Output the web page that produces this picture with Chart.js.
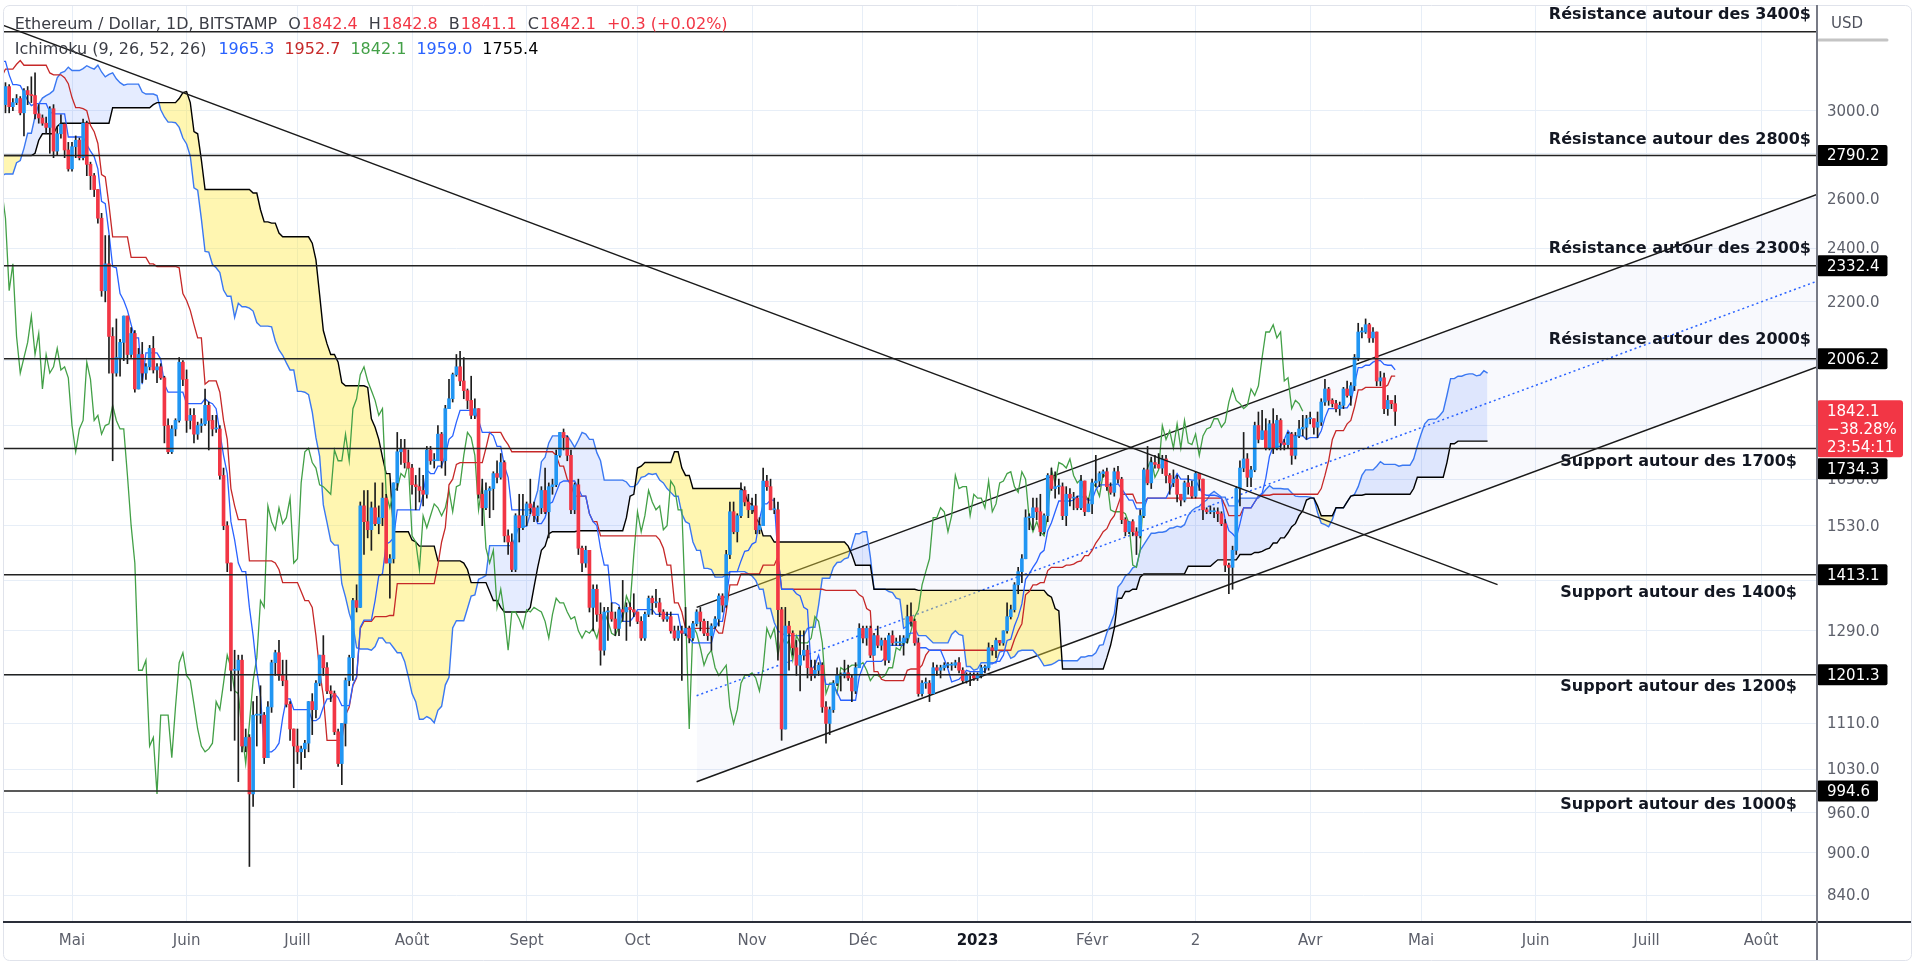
<!DOCTYPE html>
<html><head><meta charset="utf-8">
<script src="https://cdn.jsdelivr.net/npm/chart.js@4/dist/chart.umd.min.js"></script>
<style>html,body{margin:0;padding:0;background:#fff;overflow:hidden}canvas{display:block}</style>
</head><body>
<canvas id="c" width="1920" height="971"></canvas>
<script>
// ---------- DATA (ETH/USD daily, BITSTAMP) ----------
const firstDate = '2022-01-24';
const firstOpen = 2540;
const closes = [
 2440,2460,2470,2420,2550,2600,2600,2690,
 2790,2680,2660,2990,3020,3060,3140,3110,3240,3080,2930,2920,2880,2930,3180,3130,2890,2790,2760,2620,2570,2630,2580,2600,2770,2780,2620,2920,
 2970,2950,2830,2620,2670,2550,2500,2580,2730,2610,2560,2570,2520,2590,2620,2770,2820,2940,2950,2860,2900,2970,3030,3110,3110,3140,3300,3330,3400,3380,3280,
 3450,3440,3520,3520,3410,3170,3230,3190,3260,3210,2980,3030,3120,3020,3040,3060,2990,3100,3080,3075,2985,2965,2940,2920,3010,2810,2890,2935,2815,2730,
 2830,2860,2780,2940,2750,2700,2640,2520,2240,2340,2080,1960,2010,2060,2150,2020,2090,1910,2020,1960,1980,2040,1970,1980,1945,1800,1725,1790,1815,1995,1940,
 1815,1830,1775,1800,1805,1860,1815,1790,1790,1660,1530,1440,1210,1210,1230,1070,1085,990,1125,1125,1125,1050,1140,1225,1245,1200,1190,1145,1100,1070,
 1060,1065,1075,1150,1135,1185,1240,1215,1170,1165,1095,1040,1110,1190,1235,1355,1340,1580,1540,1520,1575,1535,1550,1600,1440,1450,1640,1725,1735,1695,1680,
 1635,1630,1620,1610,1730,1700,1700,1775,1700,1850,1880,1955,1980,1935,1905,1875,1830,1850,1610,1575,1620,1625,1665,1655,1695,1505,1490,1425,1555,1525,1555,
 1585,1575,1555,1575,1620,1565,1630,1635,1715,1780,1765,1715,1570,1635,1475,1440,1470,1340,1380,1325,1250,1330,1330,1315,1295,1335,1330,1340,1335,1330,
 1310,1275,1325,1360,1350,1350,1330,1315,1320,1290,1275,1290,1285,1295,1275,1305,1330,1310,1285,1280,1300,1315,1365,1345,1460,1565,1515,1555,1620,1590,1570,
 1580,1520,1530,1645,1630,1570,1570,1335,1100,1300,1285,1255,1220,1240,1250,1215,1200,1210,1220,1140,1110,1135,1185,1200,1200,1205,1195,1170,1215,1295,
 1275,1295,1240,1280,1260,1270,1230,1280,1265,1265,1265,1275,1320,1310,1265,1165,1185,1185,1165,1215,1210,1215,1220,1220,1220,1225,1210,1190,1200,1200,1195,
 1200,1215,1215,1255,1250,1270,1265,1290,1320,1335,1390,1420,1450,1550,1550,1575,1565,1515,1555,1660,1625,1630,1630,1555,1610,1600,1600,1575,1645,1565,1585,
 1640,1645,1665,1670,1630,1615,1670,1650,1545,1515,1540,1515,1505,1555,1675,1640,1695,1690,1680,1705,1660,1640,1650,1610,1595,1640,1630,1605,
 1665,1650,1570,1565,1565,1565,1560,1535,1435,1430,1470,1625,1680,1705,1655,1675,1800,1760,1785,1735,1805,1735,1815,1750,1745,1775,1715,1770,1790,1795,1820,
 1820,1795,1810,1870,1910,1875,1865,1850,1860,1910,1890,1920,2010,2095,2095,2120,2075,2095,1935,1945,1850,1875,1865,1842.1
];
const highs = [
 2550,2480,2720,2500,2560,2620,2650,2700,
 2820,2800,2700,3000,3060,3070,3180,3200,3250,3280,3140,2990,2950,2950,3190,3190,3150,2950,2800,2770,2750,2650,2730,2700,2800,2840,2820,2940,
 3040,3000,2970,2840,2680,2680,2640,2630,2760,2730,2650,2610,2590,2600,2660,2780,2840,2960,2990,2960,2950,3040,3040,3120,3180,3160,3300,3420,3480,3440,3440,
 3470,3550,3580,3530,3550,3410,3250,3310,3270,3300,3220,3080,3140,3130,3060,3080,3070,3110,3120,3170,3190,3030,2980,2970,3020,3030,2920,2980,2940,2850,
 2850,2880,2870,2960,2950,2760,2710,2640,2540,2450,2450,2110,2140,2070,2150,2150,2110,2100,2040,2060,1990,2050,2080,1990,1990,1950,1820,1800,1820,2010,2000,
 1970,1850,1850,1810,1820,1910,1870,1830,1830,1800,1680,1540,1440,1250,1240,1240,1100,1090,1150,1160,1180,1130,1150,1230,1250,1270,1230,1230,1150,1100,
 1100,1070,1080,1150,1165,1190,1240,1280,1225,1180,1170,1100,1110,1195,1240,1360,1390,1590,1620,1620,1590,1640,1580,1640,1610,1460,1640,1780,1760,1760,1730,
 1690,1660,1680,1660,1740,1740,1720,1800,1780,1860,1940,1960,2020,2030,2010,1910,1950,1880,1850,1650,1640,1630,1670,1700,1720,1700,1520,1510,1560,1610,1610,
 1590,1650,1590,1580,1630,1680,1640,1650,1730,1780,1790,1770,1730,1640,1650,1480,1480,1470,1390,1390,1350,1340,1340,1350,1330,1340,1400,1350,1350,1370,
 1330,1320,1330,1365,1365,1380,1360,1335,1330,1330,1300,1300,1300,1340,1300,1310,1335,1340,1315,1310,1305,1320,1370,1370,1470,1590,1590,1560,1640,1630,1610,
 1600,1610,1550,1680,1660,1650,1600,1590,1340,1340,1310,1290,1270,1290,1290,1260,1230,1230,1225,1225,1150,1140,1190,1215,1205,1230,1220,1200,1225,1305,
 1300,1300,1300,1285,1300,1275,1275,1285,1290,1275,1280,1280,1345,1350,1315,1275,1190,1195,1190,1225,1220,1220,1225,1225,1225,1230,1235,1215,1205,1205,1205,
 1205,1220,1220,1265,1260,1275,1270,1290,1350,1345,1395,1430,1460,1570,1560,1600,1600,1610,1560,1665,1680,1670,1650,1640,1630,1625,1615,1605,1660,1645,1600,
 1650,1715,1670,1675,1680,1640,1680,1685,1655,1550,1540,1545,1525,1570,1680,1740,1710,1715,1720,1715,1715,1665,1675,1660,1610,1645,1660,1645,
 1670,1665,1650,1575,1580,1575,1575,1565,1545,1440,1480,1630,1700,1780,1720,1685,1810,1840,1845,1820,1815,1850,1830,1820,1760,1780,1780,1780,1815,1830,1830,
 1840,1820,1840,1880,1940,1915,1880,1875,1870,1915,1935,1930,2020,2125,2110,2140,2125,2110,2095,1965,1960,1890,1875,1890
];
const lows = [
 2160,2360,2420,2360,2380,2530,2570,2520,
 2680,2640,2580,2650,2970,2980,3050,3030,3090,3060,2900,2890,2860,2840,2920,3070,2870,2760,2720,2580,2560,2500,2570,2300,2580,2740,2600,2580,
 2860,2900,2800,2600,2600,2540,2450,2480,2580,2550,2530,2550,2500,2500,2540,2600,2760,2760,2930,2850,2840,2890,2930,2990,3080,3100,3130,3290,3330,3350,3270,
 3220,3440,3420,3400,3400,3150,3150,3180,3190,3200,2950,2960,2990,2990,3000,3030,2980,2880,3030,3040,2960,2940,2930,2890,2800,2780,2790,2870,2780,2720,
 2720,2780,2770,2770,2700,2640,2610,2500,2220,2200,1960,1700,1950,1950,2000,1990,2010,1900,1910,1930,1940,1970,1960,1930,1940,1750,1720,1720,1770,1810,1920,
 1780,1790,1750,1760,1780,1800,1730,1770,1780,1650,1520,1420,1170,1080,1010,1060,1060,880,970,1070,1110,1040,1050,1130,1200,1190,1180,1140,1080,1000,
 1040,1030,1050,1060,1090,1120,1180,1200,1165,1150,1090,1035,1005,1070,1180,1190,1330,1340,1460,1500,1470,1530,1510,1530,1440,1360,1440,1620,1690,1680,1680,
 1610,1570,1590,1580,1600,1690,1680,1700,1680,1660,1850,1870,1950,1920,1880,1850,1820,1820,1600,1530,1570,1550,1570,1640,1650,1490,1460,1420,1420,1490,1520,
 1530,1560,1540,1540,1560,1560,1500,1610,1630,1710,1730,1700,1560,1560,1460,1420,1430,1330,1290,1310,1220,1240,1270,1310,1280,1280,1310,1270,1300,1320,
 1305,1270,1270,1320,1325,1340,1320,1310,1310,1285,1270,1270,1190,1280,1265,1270,1300,1290,1280,1270,1250,1295,1300,1330,1340,1450,1510,1490,1550,1580,1550,
 1560,1510,1510,1530,1620,1570,1560,1230,1080,1100,1210,1240,1200,1170,1230,1195,1190,1195,1200,1130,1075,1090,1130,1180,1170,1195,1190,1150,1165,1215,
 1265,1260,1235,1240,1255,1250,1220,1225,1260,1260,1260,1240,1265,1300,1260,1160,1160,1175,1150,1165,1200,1195,1210,1215,1210,1215,1205,1185,1185,1180,1190,
 1190,1195,1205,1210,1240,1235,1260,1260,1285,1315,1330,1370,1395,1450,1520,1520,1545,1505,1510,1540,1620,1600,1610,1545,1530,1580,1570,1570,1570,1555,1565,
 1560,1630,1630,1655,1620,1610,1605,1640,1535,1505,1510,1505,1460,1500,1550,1635,1625,1680,1680,1665,1640,1610,1630,1590,1580,1590,1610,1600,
 1600,1620,1545,1560,1560,1550,1540,1530,1420,1370,1380,1460,1580,1670,1630,1630,1670,1750,1760,1730,1730,1720,1730,1730,1730,1735,1690,1705,1765,1770,1760,
 1805,1775,1765,1800,1860,1860,1855,1840,1830,1850,1885,1860,1905,2000,2075,2090,2060,2060,1920,1920,1835,1830,1850,1800
];
// Ichimoku settings (9, 26, 52, 26)
const ichimokuParams = [9, 26, 52, 26];
// x axis: month labels (French) and their day numbers counted from 2022-01-01
const monthTickLabels = ['Mai','Juin','Juill','Août','Sept','Oct','Nov','Déc','2023','Févr','2','Avr','Mai','Juin','Juill','Août'];
const monthTickDays   = [120,151,181,212,243,273,304,334,365,396,424,455,485,516,546,577];
// y axis (log) tick values
const yTicks = [840,900,960,1030,1110,1200,1290,1400,1530,1650,1800,2000,2200,2400,2600,2800,3000];
// horizontal support / resistance levels
const levelPrices = [3410, 2790.2, 2332.4, 2006.2, 1734.3, 1413.1, 1201.3, 994.6];
const levelLabels = ['Résistance autour des 3400$','Résistance autour des 2800$','Résistance autour des 2300$','Résistance autour des 2000$',
                     'Support autour des 1700$','Support autour des 1400$','Support autour des 1200$','Support autour des 1000$'];
const levelHasTag = [false,true,true,true,true,true,true,true];
// trend lines: [startDay, startPrice, endDay, endPrice]
const downTrend     = [100.52, 3453, 505.7, 1390.5];
const channelUpper  = [289.0, 1340, 592.13, 2619];
const channelLower  = [289.0, 1009.8, 592.13, 1979.7];
const channelMiddle = [289.0, 1161, 592.13, 2275];
// legend texts
const legendMain = ['Ethereum / Dollar, 1D, BITSTAMP'];
const legendOHLC = [['O','1842.4'],['H','1842.8'],['B','1841.1'],['C','1842.1']];
const legendChange = '+0.3 (+0.02%)';
const legendIchiName = 'Ichimoku (9, 26, 52, 26)';
const legendIchiValues = ['1965.3','1952.7','1842.1','1959.0','1755.4'];
const lastPriceTag = ['1842.1','\u221238.28%','23:54:11'];
const lastPrice = 1842.1;

// ---------- STYLE ----------
const X_MIN = 101.33, X_MAX = 592.13, Y_MIN = 804.2, Y_MAX = 3556;
const UP = '#2196F3', DOWN = '#F23645', WICK = '#1c1c1c';
const GRID = '#e7eef7';
const FONT = '"DejaVu Sans", "Liberation Sans", sans-serif';
const labelDy = [-16.5, -16, -17, -18.5, 13, 18, 12, 14];   // text offset from its level line (px)
const labelRight = [1811, 1811, 1811, 1811, 1797, 1797, 1797, 1797];

// ---------- BUILD ----------
const dayOf = s => Math.round((Date.parse(s) - Date.parse('2022-01-01')) / 86400000);
const startDay = dayOf(firstDate);
const N = Math.min(closes.length, highs.length, lows.length);
const days = [], opens = [];
for (let i = 0; i < N; i++) { days.push(startDay + i); opens.push(i ? closes[i-1] : firstOpen); }

const wickData = days.map((d,i)=>({x:d, y:[Math.min(lows[i],opens[i],closes[i]), Math.max(highs[i],opens[i],closes[i])]}));
const bodyData = days.map((d,i)=>({x:d, y:[opens[i], closes[i]]}));
const bodyColors = days.map((d,i)=> closes[i] >= opens[i] ? UP : DOWN);

// Ichimoku indicator (standard definition, from the candles above)
function donchian(i, len){
  if (i - len + 1 < 0) return null;
  let hi = -Infinity, lo = Infinity;
  for (let k = i - len + 1; k <= i; k++){ if (highs[k] > hi) hi = highs[k]; if (lows[k] < lo) lo = lows[k]; }
  return (hi + lo) / 2;
}
const [pConv, pBase, pSpan, pDisp] = ichimokuParams;
const shift = pDisp - 1;
const tenkan = [], kijun = [], spanA = [], spanB = [], chikou = [];
for (let i = 0; i < N; i++){
  const t = donchian(i, pConv), k = donchian(i, pBase), b = donchian(i, pSpan);
  if (t !== null) tenkan.push({x:days[i], y:t});
  if (k !== null) kijun.push({x:days[i], y:k});
  if (t !== null && k !== null) spanA.push({x:days[i]+shift, y:(t+k)/2});
  if (b !== null) spanB.push({x:days[i]+shift, y:b});
  chikou.push({x:days[i]-shift, y:closes[i]});
}
const seg = a => [{x:a[0], y:a[1]}, {x:a[2], y:a[3]}];
const line = (data, color, width, order, extra) => Object.assign({type:'line', data, borderColor:color, borderWidth:width,
  pointRadius:0, tension:0, fill:false, order}, extra||{});

const datasets = [];
// 0,1,2 channel
datasets.push(line(seg(channelUpper), '#1a1a1a', 1.5, 100));
datasets.push(line(seg(channelLower), '#1a1a1a', 1.5, 101, {fill:{target:0}, backgroundColor:'rgba(110,130,210,0.05)'}));
datasets.push(line(seg(channelMiddle), '#2962FF', 1.5, 99, {borderDash:[2,3]}));
// 3 span B, 4 span A (fill to B)
datasets.push(line(spanB, '#000000', 1.4, 90));
datasets.push(line(spanA, '#3A78F2', 1.4, 91, {fill:{target:3, above:'rgba(41,98,255,0.12)', below:'rgba(255,232,60,0.40)'}}));
// ichimoku lines
datasets.push(line(chikou, '#43A047', 1.3, 70));
datasets.push(line(kijun, '#C62828', 1.3, 69));
datasets.push(line(tenkan, '#2962FF', 1.3, 68));
// candles
datasets.push({type:'bar', data:wickData, backgroundColor:WICK, barThickness:1, grouped:false, borderWidth:0, order:60});
datasets.push({type:'bar', data:bodyData, backgroundColor:bodyColors, barThickness:3, grouped:false, borderWidth:0, minBarLength:1, order:59});
// levels + down trend
levelPrices.forEach(p => datasets.push(line([{x:X_MIN,y:p},{x:X_MAX,y:p}], '#222222', 1.5, 10)));
datasets.push(line(seg(downTrend), '#1a1a1a', 1.5, 9));

function rr(ctx, x, y, w, h, r){ ctx.beginPath(); ctx.roundRect(x, y, w, h, r); }

const overlay = {
  id:'overlay',
  beforeDraw(c){ const g=c.ctx; g.save(); g.fillStyle='#fff'; g.fillRect(0,0,c.width,c.height); g.restore(); },
  afterDraw(c){
    const g = c.ctx, y = c.scales.y, a = c.chartArea;
    g.save();
    // level labels
    g.font = 'bold 16px ' + FONT; g.fillStyle = '#131722'; g.textAlign = 'right'; g.textBaseline = 'middle';
    levelPrices.forEach((p,i) => {
      const py = y.getPixelForValue(p);
      g.fillText(levelLabels[i], labelRight[i], py + labelDy[i]);
    });
    // y tick labels
    g.font = '15px ' + FONT; g.fillStyle = '#5d606b'; g.textAlign = 'left';
    yTicks.forEach(v => { const py = y.getPixelForValue(v); if (py > a.top + 8 && py < a.bottom - 6) g.fillText(v.toFixed(1), 1827, py + 1); });
    // last price tag area
    const lp = y.getPixelForValue(lastPrice);
    const redTop = lp - 11, redBot = lp + 46;
    // level tags (pushed out of the red tag like the original)
    levelPrices.forEach((p,i) => {
      if (!levelHasTag[i]) return;
      let py = y.getPixelForValue(p);
      if (py + 10.5 > redTop && py - 10.5 < redBot) py = redBot + 11.5;
      const t = p.toFixed(1), w = g.measureText(t).width + 18;
      g.fillStyle = '#000'; rr(g, a.right, py - 10.5, w, 21, 2); g.fill();
      g.fillStyle = '#fff'; g.fillText(t, a.right + 10, py + 1);
    });
    g.fillStyle = '#F23645'; rr(g, a.right, redTop, 86, 57, 3); g.fill();
    g.fillStyle = '#fff';
    lastPriceTag.forEach((t,k) => g.fillText(t, a.right + 10, lp + 1 + k * 18));
    // USD
    g.fillStyle = '#50535e'; g.fillText('USD', 1831, 24);
    g.strokeStyle = '#c4c4c4'; g.lineWidth = 3; g.lineCap = 'round';
    g.beginPath(); g.moveTo(a.right + 2, 40); g.lineTo(1887, 40); g.stroke();
    // legend line 1
    g.font = '16px ' + FONT; g.textBaseline = 'middle';
    let x = 14.7; const y1 = 25, y2 = 50;
    g.fillStyle = '#3b3d45'; g.fillText(legendMain[0], x, y1); x += g.measureText(legendMain[0]).width + 11;
    legendOHLC.forEach(([k,v]) => {
      g.fillStyle = '#3b3d45'; g.fillText(k, x, y1); x += g.measureText(k).width + 1;
      g.fillStyle = '#F23645'; g.fillText(v, x, y1); x += g.measureText(v).width + 11;
    });
    g.fillStyle = '#F23645'; g.fillText(legendChange, x, y1);
    // legend line 2
    x = 14.7;
    g.fillStyle = '#3b3d45'; g.fillText(legendIchiName, x, y2); x += g.measureText(legendIchiName).width + 12;
    const ic = ['#2962FF','#C62828','#43A047','#2962FF','#000000'];
    legendIchiValues.forEach((v,k) => { g.fillStyle = ic[k]; g.fillText(v, x, y2); x += g.measureText(v).width + 10; });
    // frame & axis lines
    g.strokeStyle = '#e0e3eb'; g.lineWidth = 1; rr(g, 3.5, 5.5, 1908, 955, 6); g.stroke();
    g.strokeStyle = '#2a2e39'; g.lineWidth = 2; g.lineCap = 'butt';
    g.beginPath(); g.moveTo(3, a.bottom); g.lineTo(1911, a.bottom); g.stroke();
    g.strokeStyle = '#787b86'; g.lineWidth = 2;
    g.beginPath(); g.moveTo(a.right, 5); g.lineTo(a.right, 960); g.stroke();
    g.restore();
  }
};

new Chart(document.getElementById('c'), {
  type:'line',
  data:{datasets},
  options:{
    responsive:false, animation:false, events:[],
    layout:{padding:{left:3, top:6, right:0, bottom:0}},
    plugins:{legend:{display:false}, tooltip:{enabled:false}},
    scales:{
      x:{type:'linear', min:X_MIN, max:X_MAX, bounds:'data', offset:false,
         afterBuildTicks:s=>{ s.ticks = monthTickDays.map(v=>({value:v})); },
         afterFit:s=>{ s.height = 49; },
         grid:{color:GRID, drawTicks:false, offset:false}, border:{display:false},
         ticks:{autoSkip:false, maxRotation:0, padding:10,
           color:cx => (cx.tick && cx.tick.value === 365) ? '#131722' : '#5d606b',
           font:cx => (cx.tick && cx.tick.value === 365) ? {family:FONT, size:15, weight:'bold'} : {family:FONT, size:15},
           callback:(v,i)=>monthTickLabels[i]}},
      y:{type:'logarithmic', position:'right', min:Y_MIN, max:Y_MAX, bounds:'data',
         afterBuildTicks:s=>{ s.ticks = yTicks.map(v=>({value:v})); },
         afterFit:s=>{ s.width = 103; },
         grid:{color:GRID, drawTicks:false}, border:{display:false},
         ticks:{display:false}}
    }
  },
  plugins:[overlay]
});
</script>
</body></html>
